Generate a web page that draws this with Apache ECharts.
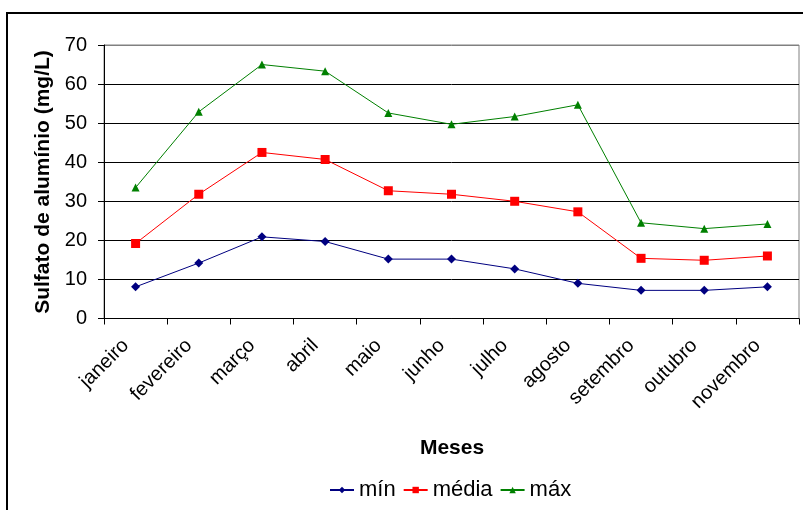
<!DOCTYPE html>
<html>
<head>
<meta charset="utf-8">
<script src="https://cdn.jsdelivr.net/npm/echarts@6/dist/echarts.min.js"></script>
<style>
  html, body { margin: 0; padding: 0; background: #fff; }
  #chart { width: 803px; height: 510px; }
</style>
</head>
<body>
<div id="chart"></div>
<script>
// Monthly aluminium sulfate dosage (mg/L)
const months = ['janeiro', 'fevereiro', 'março', 'abril', 'maio', 'junho', 'julho', 'agosto', 'setembro', 'outubro', 'novembro'];
const minValues = [8.1, 14.2, 20.9, 19.7, 15.2, 15.2, 12.7, 9.0, 7.2, 7.2, 8.1];
const meanValues = [19.2, 31.8, 42.5, 40.7, 32.7, 31.8, 30.0, 27.3, 15.4, 14.9, 16.0];
const maxValues = [33.5, 52.9, 65.0, 63.3, 52.6, 49.7, 51.7, 54.7, 24.5, 23.0, 24.2];
const yTicks = [0, 10, 20, 30, 40, 50, 60, 70];

const font = 'Liberation Sans, Arial, sans-serif';
const chart = echarts.init(document.getElementById('chart'), null, { renderer: 'canvas' });

chart.setOption({
  animation: false,
  backgroundColor: '#fff',
  textStyle: { fontFamily: font },
  grid: {
    left: 104, right: 4, top: 45, bottom: 191.5,
    containLabel: false, outerBoundsMode: 'none',
    show: true, borderColor: '#808080', borderWidth: 1, backgroundColor: 'transparent'
  },
  xAxis: {
    type: 'category',
    data: months,
    boundaryGap: true,
    axisLine: { lineStyle: { color: '#000', width: 1 } },
    axisTick: { show: true, length: 6, lineStyle: { color: '#000' } },
    axisLabel: {
      rotate: 45, fontSize: 20, color: '#000', fontFamily: font,
      margin: 14, interval: 0, padding: [0, 14, 0, 0]
    }
  },
  yAxis: {
    type: 'value',
    min: yTicks[0],
    max: yTicks[yTicks.length - 1],
    interval: 10,
    axisLine: { show: true, lineStyle: { color: '#000', width: 1 } },
    axisTick: { show: true, length: 6, lineStyle: { color: '#000' } },
    axisLabel: { fontSize: 20, color: '#000', fontFamily: font, margin: 17 },
    splitLine: {
      show: true,
      lineStyle: { color: ['#000', '#000', '#000', '#000', '#000', '#000', '#000', '#808080'], width: 1 }
    }
  },
  legend: {
    top: 479,
    left: 329,
    padding: 0,
    itemWidth: 24,
    itemHeight: 8,
    itemGap: 7,
    textStyle: { fontSize: 22, color: '#000', fontFamily: font, padding: [0, 0, 0, 0] },
    data: ['mín', 'média', 'máx']
  },
  graphic: [
    {
      type: 'rect',
      shape: { x: 7, y: 13, width: 900, height: 600 },
      style: { fill: 'none', stroke: '#000', lineWidth: 2 },
      silent: true
    },
    {
      type: 'text',
      x: 43, y: 182,
      rotation: Math.PI / 2,
      style: {
        text: 'Sulfato de alumínio (mg/L)',
        font: 'bold 21px ' + font,
        fill: '#000',
        textAlign: 'center',
        textVerticalAlign: 'middle'
      }
    },
    {
      type: 'text',
      x: 452, y: 448,
      style: {
        text: 'Meses',
        font: 'bold 21px ' + font,
        fill: '#000',
        textAlign: 'center',
        textVerticalAlign: 'middle'
      }
    }
  ],
  series: [
    {
      name: 'mín', type: 'line', data: minValues,
      symbol: 'diamond', symbolSize: 9,
      itemStyle: { color: '#000080' },
      lineStyle: { color: '#000080', width: 1 }
    },
    {
      name: 'média', type: 'line', data: meanValues,
      symbol: 'rect', symbolSize: 9,
      itemStyle: { color: '#ff0000' },
      lineStyle: { color: '#ff0000', width: 1 }
    },
    {
      name: 'máx', type: 'line', data: maxValues,
      symbol: 'triangle', symbolSize: 8,
      itemStyle: { color: '#008000' },
      lineStyle: { color: '#008000', width: 1 }
    }
  ]
});
</script>
</body>
</html>
